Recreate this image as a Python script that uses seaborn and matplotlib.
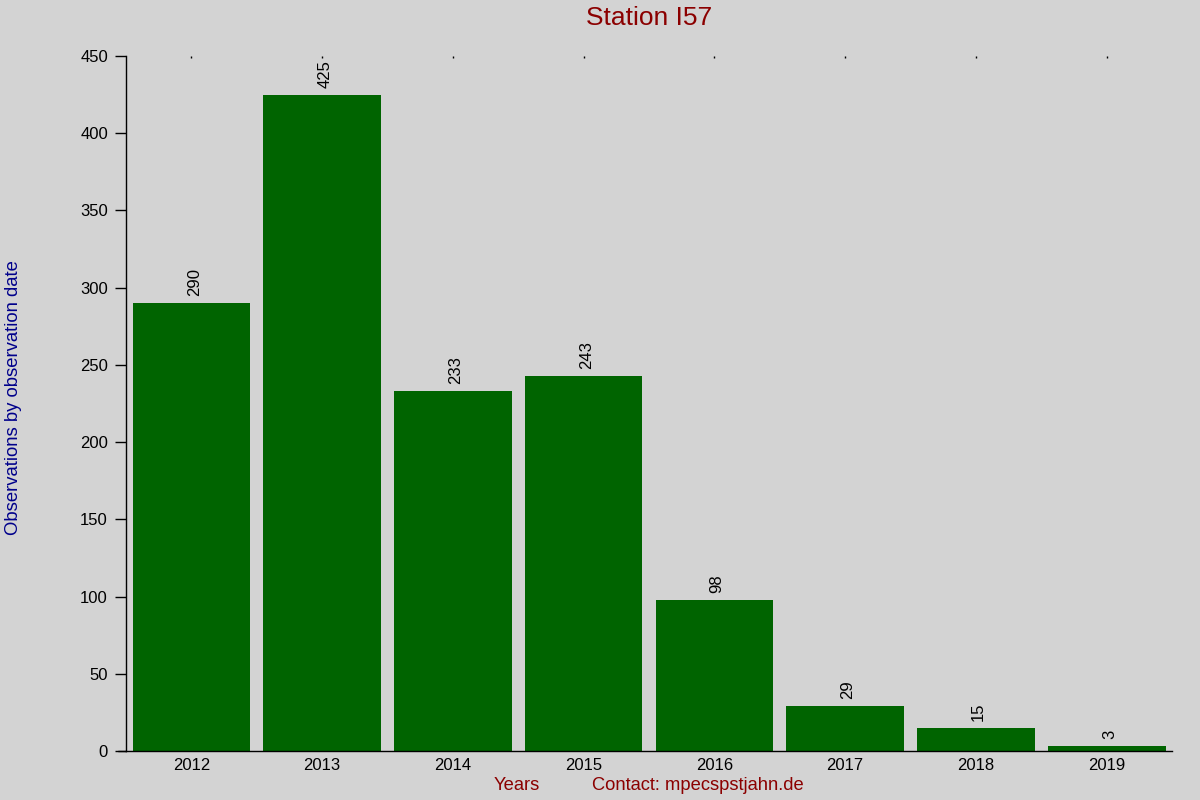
import pandas as pd
import matplotlib
matplotlib.use("Agg")
import matplotlib.pyplot as plt
import seaborn as sns

years = ["2012", "2013", "2014", "2015", "2016", "2017", "2018", "2019"]
observations = [290, 425, 233, 243, 98, 29, 15, 3]

bg = "#d3d3d3"
sns.set_style("ticks")
plt.rcParams["font.family"] = ["Liberation Sans", "DejaVu Sans"]

df = pd.DataFrame({"Year": years, "Observations": observations})

fig = plt.figure(figsize=(12, 8), dpi=100, facecolor=bg)
ax = fig.add_axes([0.105, 0.06125, 0.8717, 0.86875])
ax.set_facecolor(bg)

sns.barplot(data=df, x="Year", y="Observations", color="#006400",
            saturation=1, width=0.9, ax=ax)
for bar in ax.patches:
    bar.set_edgecolor("none")

# Werte über den Balken
for bar, val in zip(ax.patches, observations):
    ax.annotate(str(val), (bar.get_x() + bar.get_width() / 2, bar.get_height()),
                xytext=(2, 5), textcoords="offset points", rotation=90,
                ha="center", va="bottom", fontsize=12, color="black")

ax.set_xlim(-0.5, 7.5)
ax.set_ylim(0, 450)
ax.set_yticks(range(0, 451, 50))

sns.despine(ax=ax, top=True, right=True)
ax.spines["left"].set_color("black")
ax.spines["bottom"].set_color("black")
ax.spines["left"].set_linewidth(1)
ax.spines["bottom"].set_linewidth(1)
ax.plot([-0.56, -0.5], [0, 0], color="black", lw=1, clip_on=False)

ax.tick_params(axis="y", length=8, width=1, labelsize=12, colors="black", pad=5)
ax.tick_params(axis="x", bottom=False, top=True, length=1.5, width=1,
               direction="in", labelsize=12, colors="black", pad=5)

ax.set_xlabel("")
ax.set_ylabel("")
fig.text(0.011, 0.503, "Observations by observation date", rotation=90,
         ha="center", va="center", fontsize=13.3, color="#00008b")
fig.text(0.431, 0.0175, "Years", ha="center", va="center",
         fontsize=13.2, color="#8b0000")
fig.text(0.5817, 0.0175, "Contact: mpecspstjahn.de", ha="center", va="center",
         fontsize=13.2, color="#8b0000")
fig.text(0.541, 0.978, "Station I57", ha="center", va="center",
         fontsize=19, color="#8b0000")

fig.savefig("out.png", dpi=100, facecolor=bg)
